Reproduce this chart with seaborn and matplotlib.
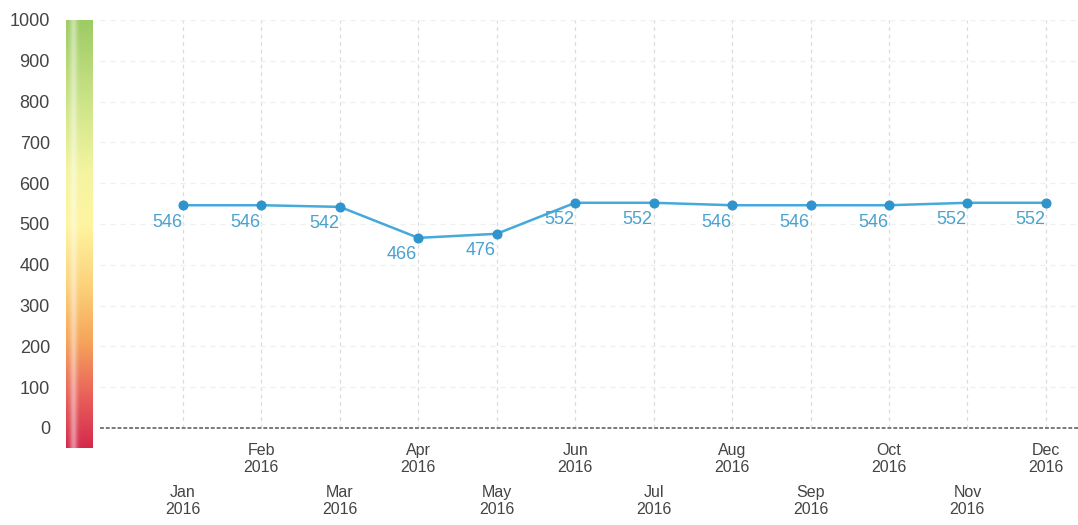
import numpy as np
import pandas as pd
import matplotlib
matplotlib.use("Agg")
import matplotlib.pyplot as plt
from matplotlib.colors import LinearSegmentedColormap
import seaborn as sns

# ---- data ----
months = ["Jan", "Feb", "Mar", "Apr", "May", "Jun",
          "Jul", "Aug", "Sep", "Oct", "Nov", "Dec"]
year = "2016"
values = [546, 546, 542, 466, 476, 552, 552, 546, 546, 546, 552, 552]
y_ticks = [0, 100, 200, 300, 400, 500, 600, 700, 800, 900, 1000]

df = pd.DataFrame({"idx": np.arange(len(months)), "month": months, "value": values})

sns.set_theme(style="white")
plt.rcParams["font.family"] = ["Liberation Sans", "DejaVu Sans"]

W, H = 1078, 525
fig = plt.figure(figsize=(W / 100, H / 100), dpi=100)
fig.patch.set_facecolor("white")

def frac_rect(x0, y_top, x1, y_bot):
    return [x0 / W, (H - y_bot) / H, (x1 - x0) / W, (y_bot - y_top) / H]

ax = fig.add_axes(frac_rect(100, 20, 1078, 428))

line_col = "#45a9db"
sns.lineplot(data=df, x="idx", y="value", ax=ax, color=line_col, lw=1.8,
             marker="o", markersize=6.5, markerfacecolor="#2f93cc",
             markeredgecolor="#2f93cc", zorder=5)

for i, v in enumerate(values):
    ax.annotate(str(v), (i, v), xytext=(-1, -17), textcoords="offset pixels",
                ha="right", va="center", fontsize=13, color="#4aa2cf", zorder=6)

ax.set_ylim(0, 1000)
ax.set_xlim(-1.058, 11.41)
ax.set_yticks(y_ticks)
ax.set_yticklabels([str(t) for t in y_ticks], fontsize=13, color="#444444")
ax.tick_params(axis="y", length=0, pad=36)

ax.set_xticks(range(len(months)))
ax.set_xticklabels([f"{m}\n{year}" for m in months], fontsize=11.5,
                   color="#444444", linespacing=1.2)
ax.tick_params(axis="x", length=0)
for i, tk in enumerate(ax.xaxis.get_major_ticks()):
    tk.set_pad(41 if i % 2 == 0 else 10.8)

ax.set_xlabel("")
ax.set_ylabel("")
for s in ax.spines.values():
    s.set_visible(False)

# grid
for i in range(len(months)):
    ax.axvline(i, color="#dcdcdc", lw=0.9, ls=(0, (3, 3)), zorder=1)
for t in y_ticks[1:]:
    ax.axhline(t, color="#efefef", lw=0.9, ls=(0, (4, 4)), zorder=1)
ax.axhline(0, color="#7a7a7a", lw=1.4, ls=(0, (2, 1)), zorder=2, clip_on=False)

# gradient bar
gax = fig.add_axes(frac_rect(66, 20, 93, 448))
cmap = LinearSegmentedColormap.from_list("rg", [
    (0.0, "#d42a4c"),
    (0.12, "#e9605a"),
    (0.25, "#f6a55a"),
    (0.38, "#fcd27a"),
    (0.52, "#fff4a0"),
    (0.65, "#f3f4a0"),
    (0.8, "#cfe58a"),
    (1.0, "#9dcb64"),
])
grad = np.linspace(0, 1, 256).reshape(-1, 1)
gax.imshow(grad, aspect="auto", cmap=cmap, origin="lower", extent=[0, 1, 0, 1])
hl = np.zeros((1, 64, 4))
xs = np.linspace(0, 1, 64)
hl[..., :3] = 1.0
hl[0, :, 3] = np.clip(0.45 * np.exp(-((xs - 0.28) / 0.14) ** 2), 0, 1)
gax.imshow(hl, aspect="auto", extent=[0, 1, 0, 1])
gax.set_xlim(0, 1)
gax.set_ylim(0, 1)
gax.set_xticks([])
gax.set_yticks([])
for s in gax.spines.values():
    s.set_visible(False)

fig.savefig("out.png", dpi=100, facecolor="white")
